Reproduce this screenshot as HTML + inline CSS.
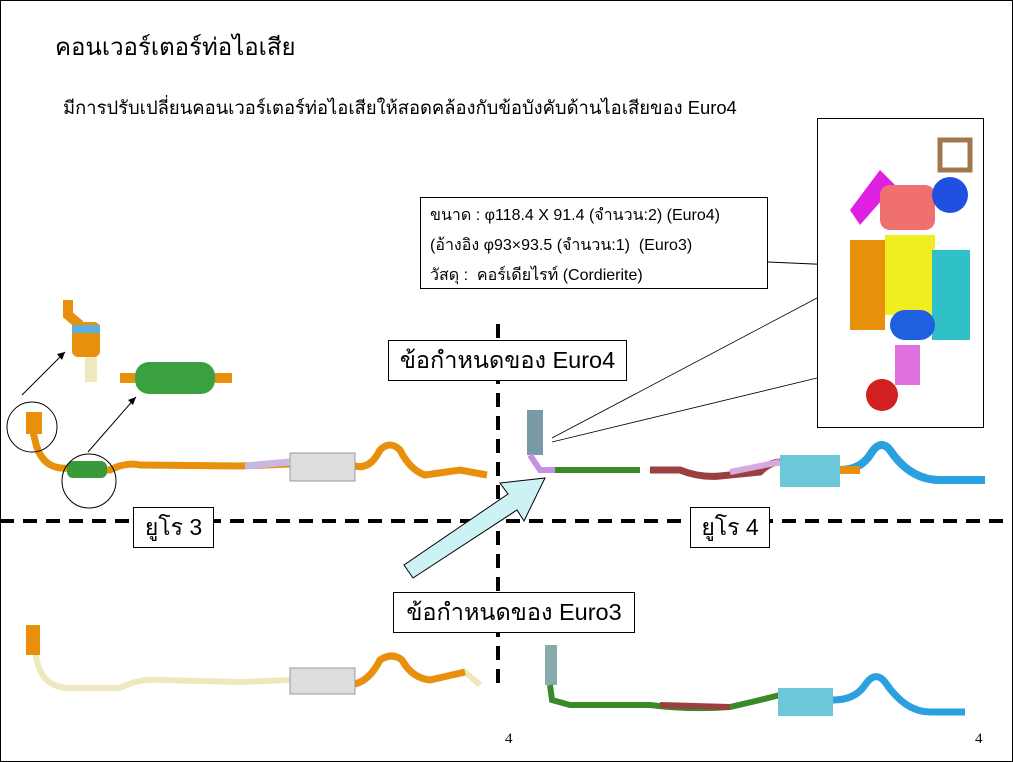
<!DOCTYPE html>
<html><head><meta charset="utf-8"><style>
body{margin:0;width:1013px;height:762px;overflow:hidden;background:#fff;font-family:"Liberation Sans","Noto Sans CJK SC",sans-serif}
.t{position:absolute;white-space:nowrap;color:#000}
.box{position:absolute;border:1px solid #000;background:#fff;box-sizing:border-box}
</style></head><body>
<svg width="1013" height="762" style="position:absolute;left:0;top:0">
<rect x="0.5" y="0.5" width="1012" height="761" fill="none" stroke="#000"/>
<line x1="498" y1="324" x2="498" y2="692" stroke="#000" stroke-width="4" stroke-dasharray="14,9"/>
<line x1="0" y1="521" x2="1013" y2="521" stroke="#000" stroke-width="4" stroke-dasharray="14,9"/>
<path d="M30,420 L35,440 Q40,465 60,468 L110,470 Q125,462 140,465 L240,466 L290,464 L355,466 Q370,470 380,450 Q390,440 400,450 Q410,470 425,475 L460,470 L487,475" fill="none" stroke="#e8900c" stroke-width="7"/>
<rect x="67" y="461" width="40" height="17" rx="6" fill="#3a9a3a"/>
<rect x="290" y="453" width="65" height="28" fill="#ddd" stroke="#999"/>
<path d="M245,466 L290,462" stroke="#c8b8e0" stroke-width="7"/>
<rect x="26" y="412" width="16" height="22" fill="#e8900c"/>
<circle cx="32" cy="427" r="25" fill="none" stroke="#000"/>
<circle cx="89" cy="481" r="27" fill="none" stroke="#000"/>
<line x1="22" y1="395" x2="65" y2="352" stroke="#000"/><polygon points="65,352 57,354 62,360" fill="#000"/>
<line x1="88" y1="452" x2="136" y2="397" stroke="#000"/><polygon points="136,397 128,400 133,405" fill="#000"/>
<path d="M68,300 L68,315 L80,325" fill="none" stroke="#e8900c" stroke-width="10"/>
<rect x="72" y="322" width="28" height="35" rx="6" fill="#e8900c"/>
<rect x="72" y="325" width="28" height="8" fill="#5ab0e0"/>
<rect x="85" y="357" width="12" height="25" fill="#eee8c0"/>
<rect x="135" y="362" width="80" height="32" rx="14" fill="#3aa040"/>
<path d="M120,378 L135,378 M215,378 L232,378" stroke="#e8900c" stroke-width="10"/>
<path d="M32,640 L38,665 Q45,688 70,688 L120,688 Q140,678 160,680 L240,682 L290,680 L355,684 Q370,680 380,660 Q392,652 402,660 Q412,678 430,680 L465,672 L480,685" fill="none" stroke="#eee8c0" stroke-width="6"/>
<path d="M355,684 Q370,680 380,660 Q392,652 402,660 Q412,678 430,680 L465,672" fill="none" stroke="#e8900c" stroke-width="7"/>
<rect x="26" y="625" width="14" height="30" fill="#e8900c"/>
<rect x="290" y="668" width="65" height="26" fill="#ddd" stroke="#999"/>
<rect x="527" y="410" width="16" height="45" fill="#7a9aa8"/>
<path d="M530,455 L540,470 L560,470 L640,470" fill="none" stroke="#c890e0" stroke-width="6"/>
<path d="M555,470 L640,470" stroke="#3a8a2a" stroke-width="6"/>
<path d="M650,470 L680,470 Q700,478 720,476 L760,472 Q770,462 780,462" fill="none" stroke="#9a4040" stroke-width="7"/>
<path d="M730,472 L780,462" stroke="#d8a8e0" stroke-width="6"/>
<rect x="780" y="455" width="60" height="32" fill="#6cc8d8"/>
<path d="M840,470 Q860,470 870,455 Q880,438 890,450 Q910,480 940,480 L985,480" fill="none" stroke="#2aa0e0" stroke-width="8"/>
<path d="M840,470 L860,470" stroke="#e8900c" stroke-width="8"/>
<rect x="545" y="645" width="12" height="40" fill="#8aa"/>
<path d="M550,685 L552,700 L570,705 L650,705 Q690,710 730,707 L760,700 L780,695" fill="none" stroke="#3a8a2a" stroke-width="6"/>
<path d="M660,705 L730,707" stroke="#9a4040" stroke-width="6"/>
<rect x="778" y="688" width="55" height="28" fill="#6cc8d8"/>
<path d="M833,700 Q855,700 865,685 Q875,670 885,682 Q905,712 930,712 L965,712" fill="none" stroke="#2aa0e0" stroke-width="7"/>
<line x1="552" y1="438" x2="817" y2="298" stroke="#000" stroke-width="0.8"/>
<line x1="552" y1="442" x2="817" y2="378" stroke="#000" stroke-width="0.8"/>
<line x1="768" y1="262" x2="905" y2="268" stroke="#000"/><polygon points="905,268 895,264 895,272" fill="#000"/>
<polygon points="404,565 413,578 517,510 524,521 545,478 500,483 508,494" fill="#ccf2f6" stroke="#000"/>
<rect x="817.5" y="118.5" width="166" height="309" fill="#fff" stroke="#000"/>
<path d="M850,210 L880,170 L895,185 L860,225Z" fill="#e020e0"/>
<rect x="880" y="185" width="55" height="45" rx="10" fill="#f07070"/>
<rect x="940" y="140" width="30" height="30" fill="none" stroke="#a07850" stroke-width="5"/>
<circle cx="950" cy="195" r="18" fill="#2050e0"/>
<rect x="850" y="240" width="35" height="90" fill="#e8900c"/>
<rect x="885" y="235" width="50" height="80" fill="#eeee20"/>
<rect x="932" y="250" width="38" height="90" fill="#30c0c8"/>
<rect x="890" y="310" width="45" height="30" rx="15" fill="#2060e0"/>
<rect x="895" y="345" width="25" height="40" fill="#e070e0"/>
<circle cx="882" cy="395" r="16" fill="#d02020"/>
</svg>
<div class="t" style="left:55px;top:27px;font-size:24px">คอนเวอร์เตอร์ท่อไอเสีย</div>
<div class="t" style="left:63px;top:94px;font-size:18.4px">มีการปรับเปลี่ยนคอนเวอร์เตอร์ท่อไอเสียให้สอดคล้องกับข้อบังคับด้านไอเสียของ Euro4</div>
<div class="box" style="left:420px;top:197px;width:348px;height:92px;padding:3px 0 0 9px;font-size:16px;line-height:30px">ขนาด : φ118.4 X 91.4 (จำนวน:2) (Euro4)<br>(อ้างอิง φ93×93.5 (จำนวน:1)&nbsp; (Euro3)<br>วัสดุ :&nbsp; คอร์เดียไรท์ (Cordierite)</div>
<div class="box" style="left:388px;top:340px;width:239px;height:41px;font-size:23.5px;text-align:center;line-height:39px">ข้อกำหนดของ Euro4</div>
<div class="box" style="left:133px;top:507px;width:81px;height:41px;font-size:23px;text-align:center;line-height:39px">ยูโร 3</div>
<div class="box" style="left:690px;top:507px;width:80px;height:41px;font-size:23px;text-align:center;line-height:39px">ยูโร 4</div>
<div class="box" style="left:393px;top:592px;width:242px;height:41px;font-size:23.5px;text-align:center;line-height:39px">ข้อกำหนดของ Euro3</div>
<div class="t" style="left:505px;top:731px;font-size:15px;font-family:'Liberation Serif',serif">4</div>
<div class="t" style="left:975px;top:731px;font-size:15px;font-family:'Liberation Serif',serif">4</div>
</body></html>
